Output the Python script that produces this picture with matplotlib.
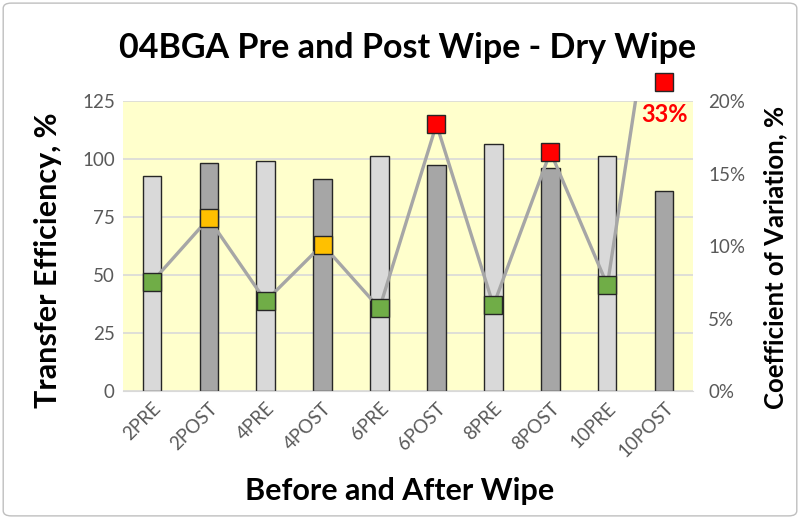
""" Transfer efficiency and CV before / after dry wipe for 04BGA. """

import matplotlib.pyplot as plt
from matplotlib.patches import FancyBboxPatch
import numpy as np

plt.rcParams['font.family'] = ['Lato', 'DejaVu Sans']

CATEGORIES = ['2PRE', '2POST', '4PRE', '4POST', '6PRE', '6POST',
              '8PRE', '8POST', '10PRE', '10POST']
TRANSFER_EFF = [92.5, 98.2, 99.0, 91.5, 101.3, 97.2, 106.4, 96.0, 101.5, 86.0]
CV_PCT = [7.5, 11.9, 6.2, 10.1, 5.7, 18.4, 5.9, 16.5, 7.3, 33.0]

CV_AXIS_MAX = 20
CV_DISPLAY_CAP = 21.3   # off-scale points get drawn just above the plot area
TICK_COLOR = '#595959'


def marker_color(v):
    if v > 15:
        return '#FF0000'
    if v >= 10:
        return '#FFC000'
    return '#70AD47'


fig = plt.figure(figsize=(8, 5.19), dpi=100)
ax = fig.add_axes([0.154, 0.2466, 0.712, 0.5588])
ax.set_facecolor('#FFFFCC')

x = np.arange(len(CATEGORIES))
bar_colors = ['#D9D9D9' if c.endswith('PRE') else '#A6A6A6' for c in CATEGORIES]
ax.bar(x, TRANSFER_EFF, width=0.32, color=bar_colors, edgecolor='#262626',
       linewidth=1.0, zorder=2)

ax.set_xlim(-0.5, len(CATEGORIES) - 0.5)
ax.set_ylim(0, 125)
ax.set_yticks(range(0, 126, 25))
ax.yaxis.grid(True, color='#D9D9D9', linewidth=1.2, zorder=0)
ax.set_axisbelow(True)
for side in ['top', 'right', 'left']:
    ax.spines[side].set_visible(False)
ax.spines['bottom'].set_color('#D9D9D9')
ax.tick_params(axis='both', length=0, labelsize=13.5, colors=TICK_COLOR, pad=6)
ax.set_xticks(x)
ax.set_xticklabels(CATEGORIES, rotation=45, ha='right', rotation_mode='anchor')

ax.set_ylabel('Transfer Efficiency, %', fontsize=22, fontweight='bold')
ax.yaxis.set_label_coords(-0.107, 0.45)
ax.set_xlabel('Before and After Wipe', fontsize=22, fontweight='bold')
ax.xaxis.set_label_coords(0.486, -0.295)
ax.set_title('04BGA Pre and Post Wipe - Dry Wipe', fontsize=24.5,
             fontweight='bold', pad=31)

ax2 = ax.twinx()
ax2.set_ylim(0, CV_AXIS_MAX)
ax2.set_yticks(range(0, CV_AXIS_MAX + 1, 5))
ax2.set_yticklabels(['{}%'.format(t) for t in range(0, CV_AXIS_MAX + 1, 5)])
for side in ['top', 'right', 'left', 'bottom']:
    ax2.spines[side].set_visible(False)
ax2.tick_params(axis='y', length=0, labelsize=13.5, colors=TICK_COLOR, pad=11)
ax2.set_ylabel('Coefficient of Variation, %', fontsize=18.5, fontweight='bold')
ax2.yaxis.set_label_coords(1.123, 0.462)

ax2.plot(x, CV_PCT, color='#A6A6A6', linewidth=2.4, zorder=3)
for xi, v in zip(x, CV_PCT):
    shown = min(v, CV_DISPLAY_CAP)
    ax2.plot(xi, shown, marker='s', markersize=13, color=marker_color(v),
             markeredgecolor='#262626', markeredgewidth=1.0,
             clip_on=False, zorder=4)
    if v > CV_AXIS_MAX:
        ax2.annotate('{:.0f}%'.format(v), (xi, shown), xytext=(0, -15),
                     textcoords='offset points', ha='center', va='top',
                     color='#FF0000', fontsize=17, fontweight='bold',
                     annotation_clip=False)

border = FancyBboxPatch((0.004, 0.006), 0.992, 0.988,
                        boxstyle='round,pad=0,rounding_size=0.01',
                        transform=fig.transFigure, facecolor='none',
                        edgecolor='#BFBFBF', linewidth=1.0)
fig.patches.append(border)

fig.savefig('out.png', dpi=100)
